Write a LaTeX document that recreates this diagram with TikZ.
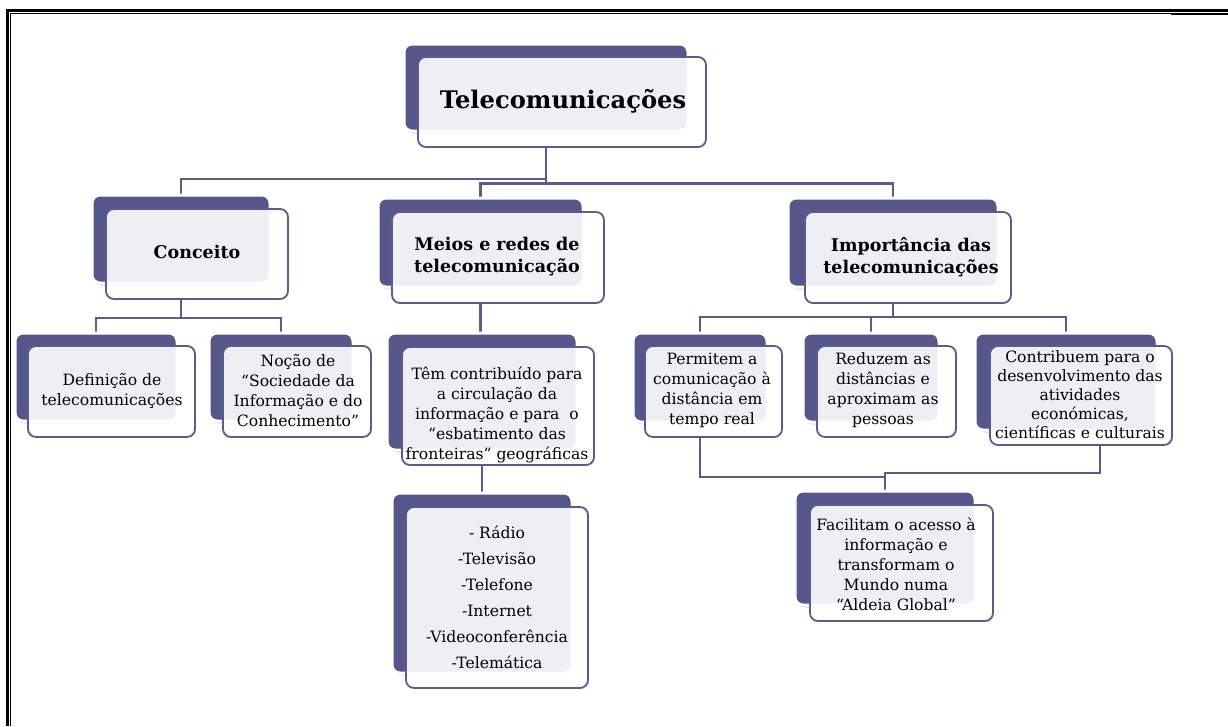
\documentclass[tikz,border=0pt]{standalone}
\usepackage{fontspec}
\setmainfont{DejaVu Serif}
\usetikzlibrary{fit,calc}
\definecolor{dk}{HTML}{55568A}
\definecolor{ln}{HTML}{5B5C8D}
\tikzset{
  backbox/.style={fill=dk, draw=white, line width=3pt, rounded corners=8pt, inner sep=0pt},
  shadowbox/.style={fill=black!16, draw=none, rounded corners=9pt, inner sep=0pt},
  frontbox/.style={fill=white, fill opacity=0.9, draw=ln, line width=1.8pt, rounded corners=8pt, inner sep=0pt},
  txt/.style={align=center, text=black, inner sep=0pt, font=\fontsize{15.6}{20}\selectfont},
  ttl/.style={align=center, text=black, inner sep=0pt, font=\bfseries\fontsize{17.5}{22}\selectfont},
  lst/.style={align=center, text=black, inner sep=0pt, font=\fontsize{15.6}{26}\selectfont},
  conn/.style={draw=ln, line width=2.3pt},
  framethick/.style={draw=black, line width=2.2pt},
  framethin/.style={draw=black, line width=1pt},
}
\newcommand\mkbox[5]{%
  \node[shadowbox, fit={(#2) (#3)}, xshift=1pt, yshift=-2.5pt] (#1s) {};
  \node[backbox, fit={(#2) (#3)}] (#1b) {};
  \node[frontbox, fit={(#4) (#5)}] (#1f) {};
}
\begin{document}
\begin{tikzpicture}[x=1pt,y=-1pt]
\useasboundingbox (0,0) rectangle (1228,726);
% frame
\coordinate (fa) at (7.5,726);
\coordinate (fb) at (7.5,10.5);
\coordinate (fc) at (1228,10.5);
\coordinate (fd) at (10.5,726);
\coordinate (fe) at (10.5,13.5);
\coordinate (ff) at (1171,13.5);
\coordinate (fg) at (1171,14);
\coordinate (fh) at (1228,14);
\draw[framethick] (fa) -- (fb) -- (fc);
\draw[framethin] (fd) -- (fe) -- (ff);
\draw[line width=2pt] (fg) -- (fh);
% bus coordinates
\coordinate (busA) at (0,179);
\coordinate (busB) at (0,183.5);
\coordinate (busC) at (0,318);
\coordinate (busD) at (0,317);
\coordinate (busE) at (0,477);
\coordinate (busF) at (0,473);

% invisible reference nodes (for connectors drawn beneath the boxes)
\begin{scope}[opacity=0]
\mkbox{top}{404,44}{688,131}{418,57}{706,147}
\mkbox{conc}{92,195}{270,283}{106,209}{288,299}
\mkbox{meio}{378,198}{583,287}{392,212}{604,303}
\mkbox{imp}{788,198}{998,287}{805,212}{1011,303}
\mkbox{def}{15,333}{177,421}{28,346}{195,437}
\mkbox{noc}{209,333}{353,421}{223,346}{371,437}
\mkbox{tem}{387,333}{577,450}{402,347}{594,465}
\mkbox{list}{392,493}{572,673}{406,507}{588,688}
\mkbox{per}{633,333}{767,422}{645,346}{782,437}
\mkbox{red}{803,333}{939,422}{817,346}{956,437}
\mkbox{con}{975,333}{1157,430}{990,346}{1172,445}
\mkbox{fac}{795,491}{975,605}{810,505}{993,621}
\end{scope}

% connectors
\draw[conn] (topb.center |- topf.south) -- (topb.center |- busB);
\draw[conn] (topb.center |- busA) -- (concb.center |- busA) -- (concb.north);
\draw[conn] (meiob.north) -- (meiob.center |- busB) -- (impb.center |- busB) -- (impb.north);
\draw[conn] (concb.center |- concf.south) -- (concb.center |- busC);
\draw[conn] (defb.north) -- (defb.center |- busC) -- (nocb.center |- busC) -- (nocb.north);
\draw[conn] (meiob.center |- meiof.south) -- (meiob.center |- temb.north);
\draw[conn] (temb.center |- temf.south) -- (temb.center |- listb.north);
\draw[conn] (impb.center |- impf.south) -- (impb.center |- busD);
\draw[conn] (perb.north) -- (perb.center |- busD) -- (conb.center |- busD) -- (conb.north);
\draw[conn] (redb.north) -- (redb.center |- busD);
\coordinate (cbot) at ($(conf.south)+(19,0)$);
\draw[conn] (perb.center |- perf.south) -- (perb.center |- busE) -- (facb.center |- busE);
\draw[conn] (cbot) -- (cbot |- busF) -- (facb.center |- busF) -- (facb.north);

% visible boxes
\mkbox{topv}{404,44}{688,131}{418,57}{706,147}
\mkbox{concv}{92,195}{270,283}{106,209}{288,299}
\mkbox{meiov}{378,198}{583,287}{392,212}{604,303}
\mkbox{impv}{788,198}{998,287}{805,212}{1011,303}
\mkbox{defv}{15,333}{177,421}{28,346}{195,437}
\mkbox{nocv}{209,333}{353,421}{223,346}{371,437}
\mkbox{temv}{387,333}{577,450}{402,347}{594,465}
\mkbox{listv}{392,493}{572,673}{406,507}{588,688}
\mkbox{perv}{633,333}{767,422}{645,346}{782,437}
\mkbox{redv}{803,333}{939,422}{817,346}{956,437}
\mkbox{conv}{975,333}{1157,430}{990,346}{1172,445}
\mkbox{facv}{795,491}{975,605}{810,505}{993,621}

% texts
\node[ttl, font=\bfseries\fontsize{24.2}{27}\selectfont] (topt) at (563,101) {Telecomunicações};
\node[ttl] (conct) at (197,252) {Conceito};
\node[ttl] (meiot) at (497,257) {Meios e redes de\\telecomunicação};
\node[ttl] (impt) at (911,257) {Importância das\\telecomunicações};
\node[txt] (deft) at (112,391) {Definição de\\telecomunicações};
\node[txt] (noct) at (298,391) {Noção de\\“Sociedade da\\Informação e do\\Conhecimento”};
\node[txt] (temt) at (497,415) {Têm contribuído para\\a circulação da\\informação e para \ o\\“esbatimento das\\fronteiras” geográficas};
\node[lst] (listt) at (497,597) {- Rádio\\-Televisão\\-Telefone\\-Internet\\-Videoconferência\\-Telemática};
\node[txt] (pert) at (712,390) {Permitem a\\comunicação à\\distância em\\tempo real};
\node[txt] (redt) at (883,390) {Reduzem as\\distâncias e\\aproximam as\\pessoas};
\node[txt, font=\fontsize{15.6}{19}\selectfont] (cont) at (1080,395) {Contribuem para o\\desenvolvimento das\\atividades\\económicas,\\científicas e culturais};
\node[txt] (fact) at (896,564) {Facilitam o acesso à\\informação e\\transformam o\\Mundo numa\\“Aldeia Global”};
\end{tikzpicture}
\end{document}
